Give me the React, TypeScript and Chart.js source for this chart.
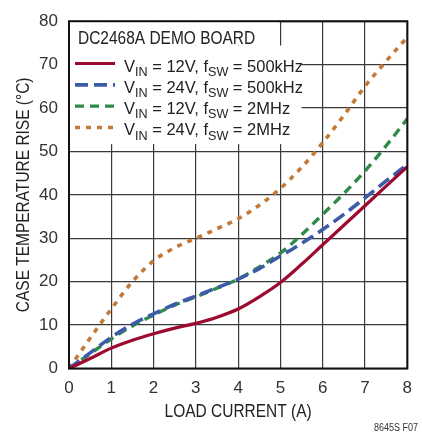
import React, { useEffect, useRef } from "react";
import { Chart, registerables } from "chart.js";

Chart.register(...registerables);

const loadCurrent = [0, 0.5, 1, 1.5, 2, 2.5, 3, 3.5, 4, 4.5, 5, 5.5, 6, 6.5, 7, 7.5, 8];
const vin12f500k = [0, 2.3, 4.7, 6.5, 8.0, 9.3, 10.4, 11.8, 13.7, 16.5, 19.8, 24, 28.5, 33, 37.5, 42, 46.5];
const vin24f500k = [0, 3.6, 7.2, 10.2, 12.6, 14.8, 16.7, 18.6, 20.6, 23, 25.9, 28.8, 32, 35.5, 39.3, 43.2, 47];
const vin12f2m = [0, 3.4, 6.8, 9.8, 12.3, 14.6, 16.5, 18.5, 20.6, 23.4, 26.6, 30.8, 35.5, 40.3, 45.5, 51.3, 57.5];
const vin24f2m = [0, 7, 13.7, 20, 24.8, 27.8, 30, 32.2, 34.5, 37.6, 41.5, 46.3, 52, 58.3, 65, 70.8, 76.3];

const seriesLabels = [
  "VIN = 12V, fSW = 500kHz",
  "VIN = 24V, fSW = 500kHz",
  "VIN = 12V, fSW = 2MHz",
  "VIN = 24V, fSW = 2MHz",
];
// legend label parts: [text, isSubscript]
const legendParts: [string, boolean][][] = [
  [["V", false], ["IN", true], [" = 12V, f", false], ["SW", true], [" = 500kHz", false]],
  [["V", false], ["IN", true], [" = 24V, f", false], ["SW", true], [" = 500kHz", false]],
  [["V", false], ["IN", true], [" = 12V, f", false], ["SW", true], [" = 2MHz", false]],
  [["V", false], ["IN", true], [" = 24V, f", false], ["SW", true], [" = 2MHz", false]],
];
const boardTitle = "DC2468A DEMO BOARD";
const xTitle = "LOAD CURRENT (A)";
const yTitle = "CASE TEMPERATURE RISE (°C)";
const footnote = "8645S F07";

const FONT = "'Liberation Sans', Arial, sans-serif";
const SX = 0.86; // horizontal condensation for the narrow typeface look
const SX_ROWS = 0.97;

const colors = ["#9c0a30", "#3d5aa8", "#2f8a4c", "#c27a36"];
const dashes = [[], [13, 6], [9, 6], [5, 6]];
const widths = [3.2, 3.6, 3.4, 3.6];

function narrowText(ctx: CanvasRenderingContext2D, txt: string, x: number, y: number, sx: number) {
  ctx.save();
  ctx.translate(x, y);
  ctx.scale(sx, 1);
  ctx.fillText(txt, 0, 0);
  ctx.restore();
  return ctx.measureText(txt).width * sx;
}

const legendPlugin = {
  id: "legendBox",
  beforeDatasetsDraw(chart: any) {
    const { ctx, chartArea, scales } = chart;
    const xs = scales.x, ys = scales.y;
    ctx.save();
    ctx.fillStyle = "#ffffff";
    const l = chartArea.left + 1;
    const t = chartArea.top + 1;
    ctx.fillRect(l, t, xs.getPixelForValue(4.96) - l, ys.getPixelForValue(74.4) - t);
    const ly = ys.getPixelForValue(74.4);
    ctx.fillRect(l, ly, xs.getPixelForValue(5.5) - l, ys.getPixelForValue(51.7) - ly);
    ctx.restore();
  },
  afterDatasetsDraw(chart: any) {
    const { ctx, chartArea } = chart;
    const left = chartArea.left;
    const top = chartArea.top;
    ctx.save();
    ctx.strokeStyle = "#111";
    ctx.lineWidth = 2;
    ctx.strokeRect(chartArea.left, chartArea.top, chartArea.right - chartArea.left, chartArea.bottom - chartArea.top);

    ctx.fillStyle = "#222";
    ctx.textBaseline = "alphabetic";
    ctx.textAlign = "left";
    ctx.font = `18px ${FONT}`;
    narrowText(ctx, boardTitle, left + 9, top + 23, SX);

    legendParts.forEach((parts, i) => {
      const y = top + 42.3 + i * 21.33;
      ctx.save();
      ctx.strokeStyle = colors[i];
      ctx.lineWidth = widths[i];
      ctx.setLineDash(dashes[i]);
      ctx.beginPath();
      ctx.moveTo(left + 6, y);
      ctx.lineTo(left + 46, y);
      ctx.stroke();
      ctx.restore();
      let x = left + 55;
      parts.forEach(([txt, sub]) => {
        ctx.font = sub ? `13px ${FONT}` : `17px ${FONT}`;
        x += narrowText(ctx, txt, x, y + (sub ? 12.2 : 8), SX_ROWS);
      });
    });

    // axis titles
    ctx.font = `18px ${FONT}`;
    ctx.textAlign = "center";
    ctx.textBaseline = "middle";
    narrowText(ctx, xTitle, (chartArea.left + chartArea.right) / 2, 412, SX);
    ctx.save();
    ctx.translate(24, (chartArea.top + chartArea.bottom) / 2);
    ctx.rotate(-Math.PI / 2);
    narrowText(ctx, yTitle, 0, 0, SX);
    ctx.restore();

    ctx.font = `10px ${FONT}`;
    ctx.textAlign = "right";
    ctx.textBaseline = "alphabetic";
    ctx.fillStyle = "#333";
    narrowText(ctx, footnote, chart.width - 4, chart.height - 3, 0.9);
    ctx.restore();
  },
};

export default function App() {
  const ref = useRef<HTMLCanvasElement | null>(null);
  useEffect(() => {
    if (!ref.current) return;
    const series = [vin12f500k, vin24f500k, vin12f2m, vin24f2m];
    const chart = new Chart(ref.current, {
      type: "line",
      data: {
        datasets: series.map((s, i) => ({
          label: seriesLabels[i],
          data: s.map((v, j) => ({ x: loadCurrent[j], y: v })),
          borderColor: colors[i],
          backgroundColor: colors[i],
          borderWidth: widths[i],
          borderDash: dashes[i],
          pointRadius: 0,
          cubicInterpolationMode: "monotone" as const,
          fill: false,
        })),
      },
      options: {
        responsive: false,
        animation: false,
        devicePixelRatio: 1,
        layout: { padding: { left: 0, top: 17, right: 4, bottom: 0 } },
        plugins: { legend: { display: false }, tooltip: { enabled: false } },
        scales: {
          x: {
            type: "linear",
            min: 0,
            max: 8,
            afterFit: (s: any) => { s.height = 65.5; },
            grid: { color: "#3a3a3a", lineWidth: 1.2, drawTicks: false },
            border: { display: false },
            ticks: { stepSize: 1, padding: 10, color: "#333", font: { family: FONT, size: 17 } },
            title: { display: false, text: xTitle },
          },
          y: {
            min: 0,
            max: 80,
            afterFit: (s: any) => { s.width = 69; },
            grid: { color: "#3a3a3a", lineWidth: 1.2, drawTicks: false },
            border: { display: false },
            ticks: { stepSize: 10, padding: 11, color: "#333", font: { family: FONT, size: 17 } },
            title: { display: false, text: yTitle },
          },
        },
      },
      plugins: [legendPlugin],
    });
    return () => chart.destroy();
  }, []);
  return (
    <div style={{ position: "absolute", left: 0, top: 0, width: 422, height: 434, background: "#fff" }}>
      <canvas ref={ref} width={422} height={434} />
    </div>
  );
}
